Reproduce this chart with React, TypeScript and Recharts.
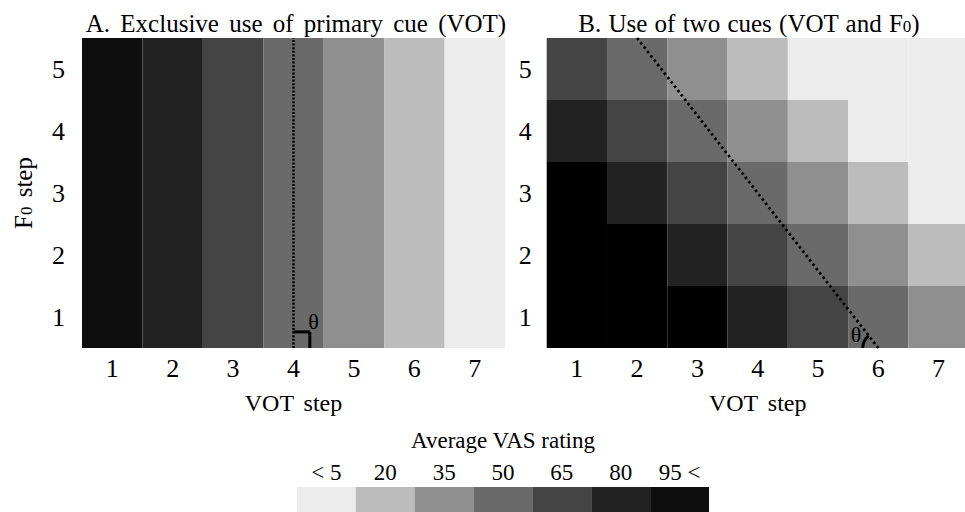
import React from 'react';
import {
  ScatterChart,
  Scatter,
  XAxis,
  YAxis,
  ReferenceArea,
  ReferenceLine,
  ReferenceDot,
  BarChart,
  Bar,
  Cell,
} from 'recharts';

const FONT = '"Liberation Serif"';

// ---- data ----
const votSteps = [1, 2, 3, 4, 5, 6, 7];
const f0Steps = [1, 2, 3, 4, 5];

const legendLabels = ['< 5', '20', '35', '50', '65', '80', '95 <'];
const legendRatings = [5, 20, 35, 50, 65, 80, 95];

const ratingColors: Record<number, string> = {
  5: '#ececec',
  20: '#bcbcbc',
  35: '#8f8f8f',
  50: '#6a6a6a',
  65: '#444444',
  80: '#222222',
  95: '#0e0e0e',
  100: '#000000',
};

// Panel A: rating depends only on VOT step
const ratingsA = [95, 80, 65, 50, 35, 20, 5];

// Panel B: one array per F0 step (VOT steps 1..7)
const ratingsB_f0_1 = [100, 100, 100, 80, 65, 50, 35];
const ratingsB_f0_2 = [100, 100, 80, 65, 50, 35, 20];
const ratingsB_f0_3 = [100, 80, 65, 50, 35, 20, 5];
const ratingsB_f0_4 = [80, 65, 50, 35, 20, 5, 5];
const ratingsB_f0_5 = [65, 50, 35, 20, 5, 5, 5];
const ratingsB = [ratingsB_f0_1, ratingsB_f0_2, ratingsB_f0_3, ratingsB_f0_4, ratingsB_f0_5];

// category boundary lines (dotted)
const boundaryA = [
  { x: 4, y: 0.5 },
  { x: 4, y: 5.5 },
];
const boundaryB = [
  { x: 2, y: 5.5 },
  { x: 6, y: 0.5 },
];
// right-angle mark in A
const rightAngleA = [
  { x: 4, y: 0.76 },
  { x: 4.27, y: 0.76 },
  { x: 4.27, y: 0.5 },
];
const thetaA = { x: 4.33, y: 0.93 };
const thetaB = { x: 5.63, y: 0.715 };
const arcB = { x: 6, y: 0.5 };

// ---- build cells ----
const cellsA = f0Steps.flatMap((f) =>
  votSteps.map((v, i) => ({ x: v, y: f, rating: ratingsA[i] }))
);
const cellsB = f0Steps.flatMap((f, fi) =>
  votSteps.map((v, i) => ({ x: v, y: f, rating: ratingsB[fi][i] }))
);
const legendData = legendRatings.map((r, i) => ({ label: legendLabels[i], v: 1, rating: r }));

const tickStyle = { fontSize: 26, fill: '#000', fontFamily: FONT };

const F0Label = (props: any) => {
  const vb = props.viewBox || { x: 0, y: 38, width: 82, height: 310 };
  const cx = vb.x + 32;
  const cy = vb.y + vb.height / 2;
  return (
    <text
      x={cx}
      y={cy}
      transform={`rotate(-90 ${cx} ${cy})`}
      textAnchor="middle"
      fontFamily={FONT}
      fontSize={25}
      fill="#000"
      style={{ wordSpacing: '3px' }}
    >
      F<tspan fontSize={17}>0</tspan> step
    </text>
  );
};

const ThetaShape = (props: any) => (
  <text
    x={props.cx}
    y={props.cy}
    textAnchor="middle"
    dominantBaseline="central"
    fontFamily={FONT}
    fontSize={22}
    fill="#000"
  >
    θ
  </text>
);

const ArcShape = (props: any) => {
  const { cx, cy } = props;
  const r = 15.5;
  const ex = cx - r * 0.614;
  const ey = cy - r * 0.79;
  return (
    <path
      d={`M ${cx - r} ${cy} A ${r} ${r} 0 0 1 ${ex} ${ey}`}
      fill="none"
      stroke="#000"
      strokeWidth={3}
    />
  );
};

const emptyShape = () => <g />;

function HeatPanel(props: {
  cells: { x: number; y: number; rating: number }[];
  width: number;
  yAxisWidth: number;
  yTickMargin: number;
  showYLabel: boolean;
  children?: React.ReactNode;
}) {
  const { cells, width, yAxisWidth, yTickMargin, showYLabel } = props;
  return (
    <ScatterChart width={width} height={420} margin={{ top: 38, right: 0, bottom: 0, left: 0 }}>
      {cells.map((c, i) => (
        <ReferenceArea
          key={i}
          x1={c.x - 0.5}
          x2={c.x + 0.5}
          y1={c.y - 0.5}
          y2={c.y + 0.5}
          fill={ratingColors[c.rating]}
          fillOpacity={1}
          stroke="none"
          ifOverflow="visible"
        />
      ))}
      <XAxis
        type="number"
        dataKey="x"
        domain={[0.5, 7.5]}
        ticks={votSteps}
        interval={0}
        allowDataOverflow
        tickLine={false}
        axisLine={false}
        tickSize={0}
        tickMargin={11}
        height={72}
        tick={tickStyle}
        label={{
          value: 'VOT step',
          position: 'insideBottom',
          offset: 9,
          style: { fontSize: 24, fill: '#000', fontFamily: FONT, wordSpacing: '4px' },
        }}
      />
      <YAxis
        type="number"
        dataKey="y"
        domain={[0.5, 5.5]}
        ticks={f0Steps}
        interval={0}
        allowDataOverflow
        tickLine={false}
        axisLine={false}
        tickSize={0}
        tickMargin={yTickMargin}
        width={yAxisWidth}
        tick={tickStyle}
        label={showYLabel ? { content: F0Label } : undefined}
      />
      <Scatter data={cells} shape={emptyShape} isAnimationActive={false} />
      {props.children}
    </ScatterChart>
  );
}

const titleStyle: React.CSSProperties = {
  position: 'absolute',
  top: 10.8,
  width: 500,
  textAlign: 'center',
  fontSize: 25,
  lineHeight: '25px',
  color: '#000',
  whiteSpace: 'nowrap',
  fontFamily: FONT,
};

export default function App() {
  return (
    <div
      style={{
        position: 'absolute',
        left: 0,
        top: 0,
        width: 965,
        height: 512,
        overflow: 'hidden',
        background: '#fff',
        fontFamily: FONT,
      }}
    >
      {/* titles */}
      <div style={{ ...titleStyle, left: 46, wordSpacing: '4px' }}>
        A. Exclusive use of primary cue (VOT)
      </div>
      <div style={{ ...titleStyle, left: 499, wordSpacing: '1px' }}>
        B. Use of two cues (VOT and F<span style={{ fontSize: 17 }}>0</span>)
      </div>

      {/* panel A */}
      <div style={{ position: 'absolute', left: 0, top: 0 }}>
        <HeatPanel cells={cellsA} width={505} yAxisWidth={82} yTickMargin={17} showYLabel>
          <ReferenceLine
            segment={boundaryA}
            stroke="#000"
            strokeWidth={2.5}
            strokeDasharray="2 1.6"
            ifOverflow="visible"
          />
          <ReferenceLine
            segment={[rightAngleA[0], rightAngleA[1]]}
            stroke="#000"
            strokeWidth={3}
            ifOverflow="visible"
          />
          <ReferenceLine
            segment={[rightAngleA[1], rightAngleA[2]]}
            stroke="#000"
            strokeWidth={3}
            ifOverflow="visible"
          />
          <ReferenceDot x={thetaA.x} y={thetaA.y} r={0} shape={ThetaShape} ifOverflow="visible" />
        </HeatPanel>
      </div>

      {/* panel B */}
      <div style={{ position: 'absolute', left: 500, top: 0 }}>
        <HeatPanel cells={cellsB} width={468.7} yAxisWidth={46.7} yTickMargin={15} showYLabel={false}>
          <ReferenceLine
            segment={boundaryB}
            stroke="#000"
            strokeWidth={2.8}
            strokeDasharray="2.5 3"
            ifOverflow="visible"
          />
          <ReferenceDot x={arcB.x} y={arcB.y} r={0} shape={ArcShape} ifOverflow="visible" />
          <ReferenceDot x={thetaB.x} y={thetaB.y} r={0} shape={ThetaShape} ifOverflow="visible" />
        </HeatPanel>
      </div>

      {/* colour legend */}
      <div
        style={{
          position: 'absolute',
          left: 253,
          top: 429,
          width: 500,
          textAlign: 'center',
          fontSize: 23,
          lineHeight: '23px',
          color: '#000',
          whiteSpace: 'nowrap',
          fontFamily: FONT,
        }}
      >
        Average VAS rating
      </div>
      <div style={{ position: 'absolute', left: 297, top: 400 }}>
        <BarChart
          width={412}
          height={112}
          data={legendData}
          margin={{ top: 0, right: 0, bottom: 0, left: 0 }}
          barCategoryGap={0}
          barGap={0}
        >
          <XAxis
            dataKey="label"
            orientation="top"
            height={87}
            interval={0}
            tickLine={false}
            axisLine={false}
            tickSize={0}
            tickMargin={7}
            tick={{ fontSize: 23, fill: '#000', fontFamily: FONT }}
          />
          <YAxis hide domain={[0, 1]} />
          <Bar dataKey="v" isAnimationActive={false}>
            {legendData.map((d, i) => (
              <Cell key={i} fill={ratingColors[d.rating]} />
            ))}
          </Bar>
        </BarChart>
      </div>
    </div>
  );
}
